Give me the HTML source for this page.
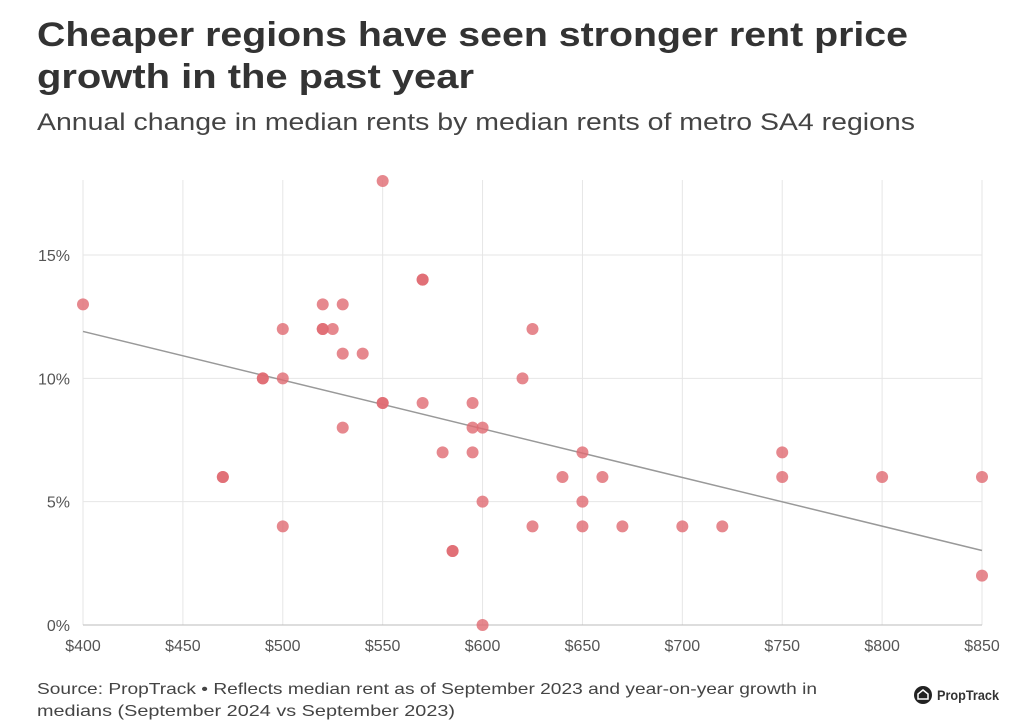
<!DOCTYPE html>
<html><head><meta charset="utf-8"><style>
body{margin:0;background:#fff;}
svg{display:block;font-family:"Liberation Sans",sans-serif;}
</style></head><body>
<svg width="1028" height="720" viewBox="0 0 1028 720">
<text x="37" y="46" font-size="34" font-weight="bold" fill="#333" textLength="871" lengthAdjust="spacingAndGlyphs">Cheaper regions have seen stronger rent price</text>
<text x="37" y="88" font-size="34" font-weight="bold" fill="#333" textLength="437" lengthAdjust="spacingAndGlyphs">growth in the past year</text>
<text x="37" y="130" font-size="24" fill="#444" textLength="878" lengthAdjust="spacingAndGlyphs">Annual change in median rents by median rents of metro SA4 regions</text>
<g id="grid"></g>
<g id="axes"></g>
<g id="trend"></g>
<g id="pts"></g>
<text x="37" y="694" font-size="16" fill="#444" textLength="780" lengthAdjust="spacingAndGlyphs">Source: PropTrack • Reflects median rent as of September 2023 and year-on-year growth in</text>
<text x="37" y="716" font-size="16" fill="#444" textLength="418" lengthAdjust="spacingAndGlyphs">medians (September 2024 vs September 2023)</text>
<g>
<circle cx="923" cy="695" r="9" fill="#222"/>
<path d="M918 699 V694 L923 690 L928 694 V699 Z" fill="none" stroke="#fff" stroke-width="1.5"/>
<text x="937" y="700" font-size="14" font-weight="bold" fill="#333" textLength="62" lengthAdjust="spacingAndGlyphs">PropTrack</text>
</g>
</svg>
<script>
const rents=[400,470,470,490,490,500,500,500,520,520,520,525,530,530,530,540,550,550,550,570,570,570,580,585,585,595,595,595,600,600,600,620,625,625,640,650,650,650,660,670,700,720,750,750,800,850,850];
const growth=[13,6,6,10,10,12,10,4,13,12,12,12,13,11,8,11,18,9,9,14,14,9,7,3,3,9,8,7,8,5,0,10,12,4,6,7,5,4,6,4,4,4,7,6,6,6,2];
const xTicks=[400,450,500,550,600,650,700,750,800,850];
const yTicks=[0,5,10,15];
const NS="http://www.w3.org/2000/svg";
const x=v=>83+(v-400)*(899/450);
const y=v=>625-v*24.667;
function mk(tag,attrs,parent){const e=document.createElementNS(NS,tag);for(const k in attrs)e.setAttribute(k,attrs[k]);parent.appendChild(e);return e;}
const grid=document.getElementById('grid'),axes=document.getElementById('axes'),pts=document.getElementById('pts'),trend=document.getElementById('trend');
xTicks.forEach(t=>{
 const l=mk('line',{x1:x(t),x2:x(t),y1:180,y2:625,stroke:'#e6e6e6','stroke-width':1},grid);
 
 
 const tx=mk('text',{x:x(t),y:651,'font-size':16,fill:'#555','text-anchor':'middle'},axes);
 tx.textContent='$'+t;
 
 
});
yTicks.forEach(t=>{
 const l=mk('line',{x1:83,x2:982,y1:y(t),y2:y(t),stroke:t===0?'#bbb':'#e6e6e6','stroke-width':1},grid);
 
 
 const tx=mk('text',{x:70,y:y(t)+6,'font-size':16,fill:'#555','text-anchor':'end'},axes);
 tx.textContent=t+'%';
 
 
});
const n=rents.length;let mx=0,my=0;for(let i=0;i<n;i++){mx+=rents[i];my+=growth[i];}mx/=n;my/=n;
let sxy=0,sxx=0;for(let i=0;i<n;i++){sxy+=(rents[i]-mx)*(growth[i]-my);sxx+=(rents[i]-mx)**2;}
const b=sxy/sxx,a=my-b*mx;
const tl=mk('line',{x1:x(400),y1:y(a+b*400),x2:x(850),y2:y(a+b*850),stroke:'#999','stroke-width':1.5},trend);


rents.forEach((r,i)=>{
 const c=mk('circle',{cx:x(r),cy:y(growth[i]),r:6,fill:'#e06a72','fill-opacity':0.8},pts);
 
 
});
</script>
</body></html>
